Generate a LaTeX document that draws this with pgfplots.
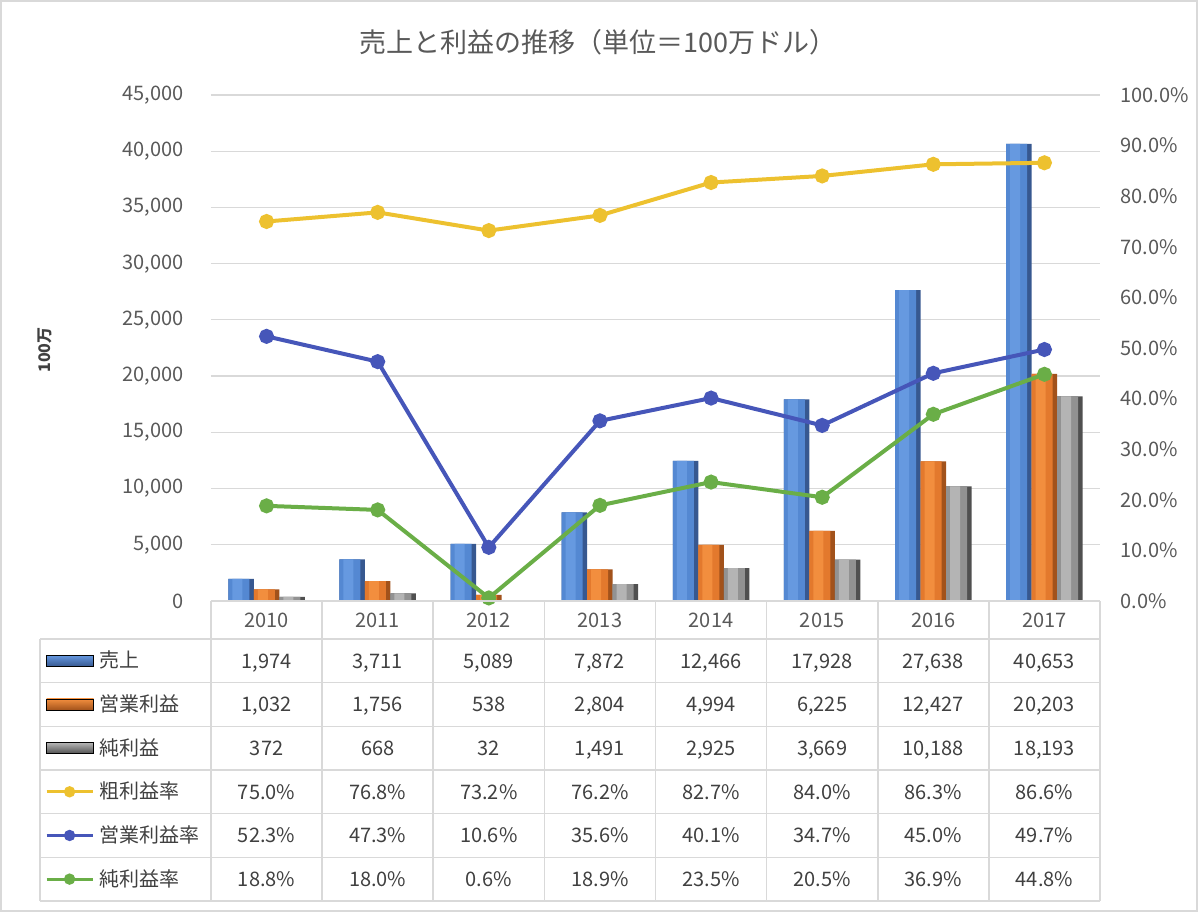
\documentclass[border=0pt]{standalone}
\usepackage{fontspec}
\setmainfont{Noto Sans CJK JP}
\usepackage{pgfplots}
\usepackage{pgfplotstable}
\pgfplotsset{compat=1.18}

\definecolor{txt}{HTML}{595959}
\definecolor{cellt}{HTML}{404040}
\definecolor{gridc}{HTML}{D9D9D9}
\definecolor{gmline}{HTML}{EDC12F}
\definecolor{omline}{HTML}{4656B9}
\definecolor{nmline}{HTML}{6AAE47}
% bar shades: dark edge, body, highlight
\definecolor{blueD}{HTML}{375890}
\definecolor{blueM}{HTML}{5488D2}
\definecolor{blueL}{HTML}{6699E0}
\definecolor{orangeD}{HTML}{A2521B}
\definecolor{orangeM}{HTML}{E3792D}
\definecolor{orangeL}{HTML}{F28E3E}
\definecolor{greyD}{HTML}{505050}
\definecolor{greyM}{HTML}{929292}
\definecolor{greyL}{HTML}{B4B4B4}

% sales / profits (millions USD) and margins (%)
\pgfplotstableread{
x year sales op net gm om nm
0 2010 1974 1032 372 75.0 52.3 18.8
1 2011 3711 1756 668 76.8 47.3 18.0
2 2012 5089 538 32 73.2 10.6 0.6
3 2013 7872 2804 1491 76.2 35.6 18.9
4 2014 12466 4994 2925 82.7 40.1 23.5
5 2015 17928 6225 3669 84.0 34.7 20.5
6 2016 27638 12427 10188 86.3 45.0 36.9
7 2017 40653 20203 18193 86.6 49.7 44.8
}\datatab

\pgfplotsset{
  /pgf/number format/assume math mode=true,
  % #1 = left edge of the bar relative to the category centre
  layerD/.style 2 args={draw=none, fill=#2, bar width=12.75pt, bar shift=#1+6.375pt},
  layerM/.style 2 args={draw=none, fill=#2, bar width=10.5pt, bar shift=#1+5.25pt},
  layerL/.style 2 args={draw=none, fill=#2, bar width=5pt, bar shift=#1+4.5pt},
  barkey/.style={legend image code/.code={\fill[##1] (0pt,-2.75pt) rectangle (23.5pt,2.75pt);}},
  rateline/.style={line width=2pt, mark=*, mark size=2.75pt, mark options={solid}},
}

\newcommand\tablerow[2]{%
  \foreach \v [count=\i from 0] in {#2} {%
    \node[text=cellt, font=\fontsize{10}{12}\selectfont, text height=7.3pt, text depth=0pt, inner sep=0pt]
      at ({105.5pt+55.5625pt*(\i+0.5)}, #1) {\v};%
  }%
}

\begin{document}
\begin{tikzpicture}
\path[use as bounding box] (0,0) rectangle (600pt,456.5pt);
\draw[gridc, line width=0.8pt] (0.5pt,1pt) rectangle (598.5pt,456pt);

\begin{axis}[
  at={(105.5pt,156pt)}, anchor=south west,
  width=444.5pt, height=253pt, scale only axis,
  xmin=-0.5, xmax=7.5, ymin=0, ymax=45000,
  ybar,
  xtick={0,...,7}, xticklabels={2010,2011,2012,2013,2014,2015,2016,2017},
  ytick={0,5000,...,45000},
  ymajorgrids, grid style={gridc, line width=0.6pt},
  axis line style={draw=none},
  major tick length=0pt,
  tick label style={font=\fontsize{10}{12}\selectfont, text=txt},
  xticklabel style={anchor=center, yshift=-9.5pt, text height=7.3pt, text depth=0pt, inner sep=0pt},
  yticklabel style={xshift=-10.2pt},
  /pgf/number format/1000 sep={,},
  scaled y ticks=false,
]
% 売上
\addplot[layerD={-19.125pt}{blueD}] table[x=x, y=sales] {\datatab};
\addplot[layerM={-19.125pt}{blueM}] table[x=x, y=sales] {\datatab};
\addplot[layerL={-19.125pt}{blueL}] table[x=x, y=sales] {\datatab};
% 営業利益
\addplot[layerD={-6.375pt}{orangeD}] table[x=x, y=op] {\datatab};
\addplot[layerM={-6.375pt}{orangeM}] table[x=x, y=op] {\datatab};
\addplot[layerL={-6.375pt}{orangeL}] table[x=x, y=op] {\datatab};
% 純利益
\addplot[layerD={6.375pt}{greyD}] table[x=x, y=net] {\datatab};
\addplot[layerM={6.375pt}{greyM}] table[x=x, y=net] {\datatab};
\addplot[layerL={6.375pt}{greyL}] table[x=x, y=net] {\datatab};
\end{axis}

\begin{axis}[
  at={(105.5pt,156pt)}, anchor=south west,
  width=444.5pt, height=253pt, scale only axis,
  xmin=-0.5, xmax=7.5, ymin=0, ymax=100,
  axis x line=none, axis y line*=right,
  axis line style={draw=none},
  major tick length=0pt,
  clip=false,
  ytick={0,10,...,100},
  yticklabel={\pgfmathprintnumber[fixed,fixed zerofill,precision=1]{\tick}\%},
  tick label style={font=\fontsize{10}{12}\selectfont, text=txt},
  yticklabel style={xshift=6.7pt},
  legend image code/.code={\draw[mark repeat=2,mark phase=2,#1,line width=1.6pt,mark size=2pt] plot coordinates {(0pt,0pt)(11.5pt,0pt)(23pt,0pt)};},
  legend cell align=left,
  legend style={at={(axis description cs:-0.18673,-0.0751)}, anchor=north west,
    draw=none, fill=none, inner sep=0pt, outer sep=0pt, row sep=0pt, column sep=2.5pt,
    font=\fontsize{10}{12}\selectfont, text=cellt,
    nodes={minimum height=21.83pt, inner xsep=0pt, inner ysep=0pt, text height=8pt, text depth=1pt}},
]
\addlegendimage{top color=blueL, bottom color=blueD, barkey}
\addlegendimage{top color=orangeL, bottom color=orangeD, barkey}
\addlegendimage{top color=greyL, bottom color=greyD, barkey}
\addplot[gmline, rateline] table[x=x, y=gm] {\datatab};
\addplot[omline, rateline] table[x=x, y=om] {\datatab};
\addplot[nmline, rateline] table[x=x, y=nm] {\datatab};
\legend{売上,営業利益,純利益,粗利益率,営業利益率,純利益率}
\end{axis}

% data table grid
\begin{scope}[gridc, line width=0.8pt]
\foreach \y in {137,115.17,93.33,71.5,49.67,27.83,6} {\draw (20pt,\y pt) -- (550pt,\y pt);}
\draw (105.5pt,156pt) -- (550pt,156pt);
\draw (20pt,6pt) -- (20pt,137pt);
\foreach \k in {0,...,8} {\draw ({105.5pt+55.5625pt*\k},6pt) -- ({105.5pt+55.5625pt*\k},156pt);}
\end{scope}

\tablerow{126.08pt}{{1,974},{3,711},{5,089},{7,872},{12,466},{17,928},{27,638},{40,653}}
\tablerow{104.25pt}{{1,032},{1,756},538,{2,804},{4,994},{6,225},{12,427},{20,203}}
\tablerow{82.42pt}{372,668,32,{1,491},{2,925},{3,669},{10,188},{18,193}}
\tablerow{60.58pt}{75.0\%,76.8\%,73.2\%,76.2\%,82.7\%,84.0\%,86.3\%,86.6\%}
\tablerow{38.75pt}{52.3\%,47.3\%,10.6\%,35.6\%,40.1\%,34.7\%,45.0\%,49.7\%}
\tablerow{16.92pt}{18.8\%,18.0\%,0.6\%,18.9\%,23.5\%,20.5\%,36.9\%,44.8\%}

\node[text=txt, font=\fontsize{13.5}{16}\selectfont] at (299pt,435.5pt) {売上と利益の推移（単位＝100万ドル）};
\node[rotate=90, text=cellt, font=\fontsize{8}{10}\selectfont\bfseries] at (22.5pt,281.5pt) {100万};
\end{tikzpicture}
\end{document}
